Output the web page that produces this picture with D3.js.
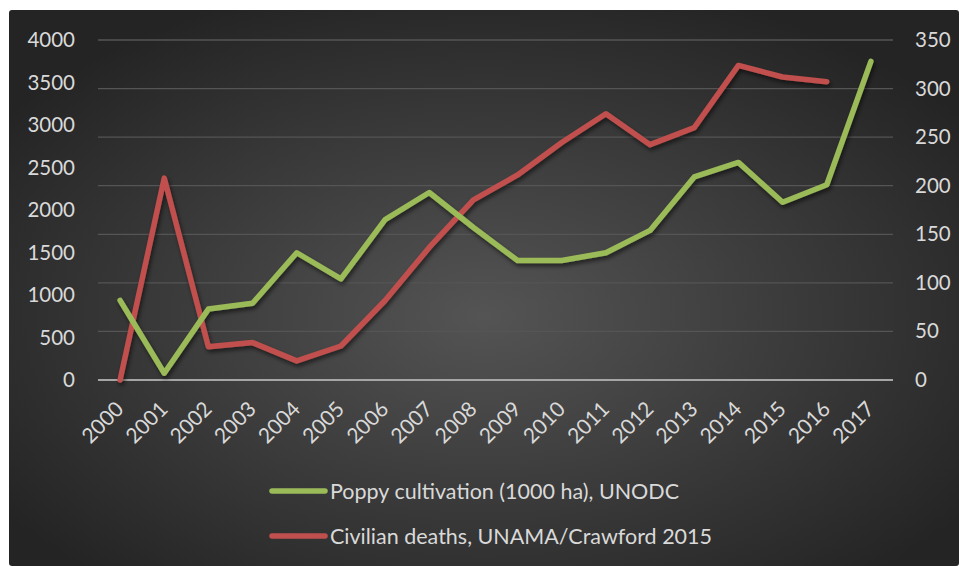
<!DOCTYPE html>
<html>
<head>
<meta charset="utf-8">
<script src="https://cdn.jsdelivr.net/npm/d3@7"></script>
<style>
  body { margin: 0; background: #fff; }
  svg { display: block; }
  text { font-family: Lato, "Noto Sans", sans-serif; fill: #d9d9d9; }
</style>
</head>
<body>
<svg id="svg"></svg>
<script>

const width = 959;
const height = 566;

// data
const years = ["2000","2001","2002","2003","2004","2005","2006","2007","2008",
               "2009","2010","2011","2012","2013","2014","2015","2016","2017"];
// poppy cultivation, thousand ha (right axis)
const poppy = [82, 7, 73, 79, 131, 104, 165, 193, 157, 123, 123, 131, 154, 209, 224, 183, 201, 328];
// civilian deaths (left axis), no value for 2017
const deaths = [0, 2375, 390, 440, 225, 400, 935, 1560, 2118, 2412, 2794, 3133, 2769, 2969, 3701, 3565, 3510, null];
const leftTicks = [0, 500, 1000, 1500, 2000, 2500, 3000, 3500, 4000];
const rightTicks = [0, 50, 100, 150, 200, 250, 300, 350];
const seriesNames = ["Poppy cultivation (1000 ha), UNODC", "Civilian deaths, UNAMA/Crawford 2015"];
const colors = ["#9bbb59", "#c0504d"];

const plot = { left: 98, right: 893, top: 40, bottom: 380 };

const svg = d3.select("#svg")
			.attr("width", width)
			.attr("height", height);

const defs = svg.append("defs");
const grad = defs.append("radialGradient")
				.attr("id", "bg")
				.attr("cx", "50%").attr("cy", "55%").attr("r", "62%");
grad.append("stop").attr("offset", "0%").attr("stop-color", "#545454");
grad.append("stop").attr("offset", "100%").attr("stop-color", "#242424");

defs.append("filter")
	.attr("id", "shadow")
	.attr("x", "-10%").attr("y", "-10%").attr("width", "120%").attr("height", "130%")
	.append("feDropShadow")
	.attr("dx", 1.5).attr("dy", 3).attr("stdDeviation", 2)
	.attr("flood-color", "#000").attr("flood-opacity", 0.55);

svg.append("rect")
	.attr("x", 9).attr("y", 10)
	.attr("width", width - 9).attr("height", height - 10)
	.attr("rx", 3)
	.style("fill", "url(#bg)");

const x = d3.scalePoint()
			.domain(years)
			.range([plot.left, plot.right])
			.padding(0.5);

const yLeft = d3.scaleLinear().domain([0, 4000]).range([plot.bottom, plot.top]);
const yRight = d3.scaleLinear().domain([0, 350]).range([plot.bottom, plot.top]);

// gridlines follow the secondary axis
svg.append("g")
	.selectAll("line")
	.data(rightTicks.filter(d => d > 0))
	.enter().append("line")
	.attr("x1", plot.left).attr("x2", plot.right)
	.attr("y1", d => yRight(d)).attr("y2", d => yRight(d))
	.style("stroke", "#555")
	.style("stroke-width", 1.3);

svg.append("line")
	.attr("x1", plot.left).attr("x2", plot.right)
	.attr("y1", plot.bottom).attr("y2", plot.bottom)
	.style("stroke", "#a6a6a6")
	.style("stroke-width", 2);

const leftAxis = svg.append("g")
	.attr("transform", `translate(${plot.left - 23},0)`)
	.call(d3.axisLeft(yLeft).tickValues(leftTicks).tickFormat(d3.format("d")).tickSize(0).tickPadding(0));

const rightAxis = svg.append("g")
	.attr("transform", `translate(${plot.right + 22},0)`)
	.call(d3.axisRight(yRight).tickValues(rightTicks).tickSize(0).tickPadding(0));

[leftAxis, rightAxis].forEach(function(a) {
	a.select(".domain").remove();
	a.selectAll("text")
		.style("font-size", "20.5px")
		.style("fill", "#d9d9d9");
});

const bottomAxis = svg.append("g")
	.attr("transform", `translate(0,${plot.bottom})`)
	.call(d3.axisBottom(x).tickSize(0));
bottomAxis.select(".domain").remove();
bottomAxis.selectAll("text")
	.style("font-size", "21px")
	.style("fill", "#d9d9d9")
	.style("text-anchor", "end")
	.attr("dy", "0.35em")
	.attr("transform", "translate(-3,23) rotate(-45)");

const lineRight = d3.line()
	.defined(d => d != null)
	.x((d, i) => x(years[i]))
	.y(d => yRight(d));

const lineLeft = d3.line()
	.defined(d => d != null)
	.x((d, i) => x(years[i]))
	.y(d => yLeft(d));

const lines = svg.append("g").attr("filter", "url(#shadow)");

lines.append("path")
	.attr("d", lineLeft(deaths))
	.style("fill", "none")
	.style("stroke", colors[1])
	.style("stroke-width", 5.5)
	.style("stroke-linejoin", "round")
	.style("stroke-linecap", "round");

lines.append("path")
	.attr("d", lineRight(poppy))
	.style("fill", "none")
	.style("stroke", colors[0])
	.style("stroke-width", 5.5)
	.style("stroke-linejoin", "round")
	.style("stroke-linecap", "round");

// legend
const legend = svg.append("g")
	.selectAll("g")
	.data(seriesNames)
	.enter().append("g")
	.attr("transform", (d, i) => `translate(272,${491 + i * 45})`);

legend.append("line")
	.attr("x1", 0).attr("x2", 53)
	.style("stroke", (d, i) => colors[i])
	.style("stroke-width", 5.5)
	.style("stroke-linecap", "round");

legend.append("text")
	.attr("x", 58)
	.attr("dy", "0.35em")
	.style("font-size", "21.5px")
	.text(d => d);

</script>
</body>
</html>
